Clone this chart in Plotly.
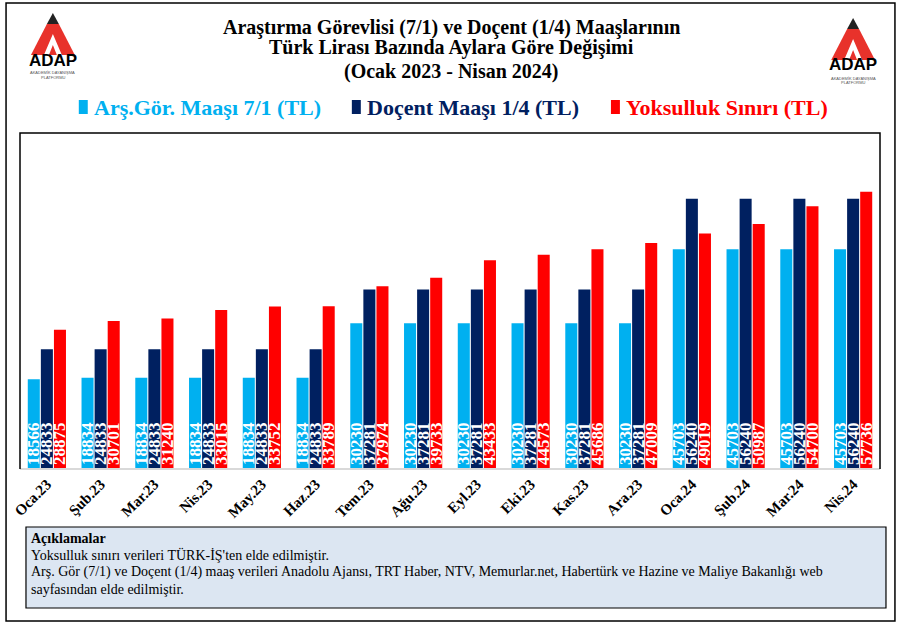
import plotly.graph_objects as go

# ---- data ----
months = ["Oca.23", "Şub.23", "Mar.23", "Nis.23", "May.23", "Haz.23", "Tem.23", "Ağu.23",
          "Eyl.23", "Eki.23", "Kas.23", "Ara.23", "Oca.24", "Şub.24", "Mar.24", "Nis.24"]
arsgor = [18566, 18834, 18834, 18834, 18834, 18834, 30230, 30230,
          30230, 30230, 30230, 30230, 45703, 45703, 45703, 45703]
docent = [24833, 24833, 24833, 24833, 24833, 24833, 37281, 37281,
          37281, 37281, 37281, 37281, 56240, 56240, 56240, 56240]
yoksulluk = [28875, 30701, 31240, 33015, 33752, 33789, 37974, 39733,
             43433, 44573, 45686, 47009, 49019, 50987, 54700, 57736]

series_names = ["Arş.Gör. Maaşı 7/1 (TL)", "Doçent Maaşı 1/4 (TL)", "Yoksulluk Sınırı (TL)"]
series_colors = ["#00b0f0", "#002060", "#ff0000"]

title_lines = ["Araştırma Görevlisi (7/1) ve Doçent (1/4) Maaşlarının",
               "Türk Lirası Bazında Aylara Göre Değişimi",
               "(Ocak 2023 - Nisan 2024)"]
note_title = "Açıklamalar"
note_lines = ["Yoksulluk sınırı verileri TÜRK-İŞ'ten elde edilmiştir.",
              "Arş. Gör (7/1) ve Doçent (1/4) maaş verileri Anadolu Ajansı, TRT Haber, NTV, Memurlar.net, Habertürk ve Hazine ve Maliye Bakanlığı web",
              "sayfasından elde edilmiştir."]

W, H = 900, 631
ML, MR, MT, MB = 17, 20, 133, 163
PW = W - ML - MR
PH = H - MT - MB


def px(x):
    return (x - ML) / PW


def py(y):
    return (H - MB - y) / PH


SERIF = "Liberation Serif"

fig = go.Figure()
for name, vals, col in zip(series_names, [arsgor, docent, yoksulluk], series_colors):
    fig.add_trace(go.Bar(
        x=months, y=vals, name=name, showlegend=False,
        marker=dict(color=col, line=dict(width=0)),
        text=[str(v) for v in vals], textposition="inside", insidetextanchor="start",
        textangle=-90, constraintext="none",
        textfont=dict(family=SERIF, size=17, color="white", weight="bold"),
        cliponaxis=False,
    ))

shapes = []
# outer border
shapes.append(dict(type="rect", xref="paper", yref="paper", x0=px(3), x1=px(895), y0=py(3), y1=py(621),
                   line=dict(color="black", width=1.5), fillcolor="rgba(0,0,0,0)", layer="below"))
# plot frame (left, top, right)
shapes.append(dict(type="path", xref="paper", yref="paper",
                   path=f"M {px(17)},{py(469)} L {px(17)},{py(133)} L {px(880)},{py(133)} L {px(880)},{py(469)}",
                   line=dict(color="black", width=1.5)))
# note box
shapes.append(dict(type="rect", xref="paper", yref="paper", x0=px(23), x1=px(886), y0=py(527), y1=py(608),
                   line=dict(color="black", width=1.2), fillcolor="#dce6f2", layer="below"))


def logo(cx, top):
    out = []
    tip = [(cx, top), (cx - 6, top + 11), (cx + 6, top + 11)]
    red = [(cx - 6, top + 11), (cx + 6, top + 11), (cx + 22, top + 42), (cx - 22, top + 42)]
    white = [(cx, top + 21), (cx + 9, top + 42), (cx + 4, top + 42), (cx, top + 32),
             (cx - 4, top + 42), (cx - 9, top + 42)]
    for poly, col in [(red, "#e8322b"), (tip, "#222222"), (white, "white")]:
        p = "M " + " L ".join(f"{px(a)},{py(b)}" for a, b in poly) + " Z"
        out.append(dict(type="path", xref="paper", yref="paper", path=p, fillcolor=col,
                        line=dict(width=0)))
    return out


shapes += logo(50, 13)
shapes += logo(853, 18)

annotations = []
for line, ty in zip(title_lines, [27, 48, 71]):
    annotations.append(dict(xref="paper", yref="paper", x=px(450), y=py(ty), xanchor="center", yanchor="middle",
                            text="<b>" + line + "</b>", showarrow=False,
                            font=dict(family=SERIF, size=20, color="black")))
for cx, ty in [(50, 60), (853, 65)]:
    annotations.append(dict(xref="paper", yref="paper", x=px(cx), y=py(ty), xanchor="center", yanchor="middle",
                            text="<b>ADAP</b>", showarrow=False,
                            font=dict(family="Liberation Sans", size=17, color="black")))
    for sub, dy in [("AKADEMİK DAYANIŞMA", 13), ("PLATFORMU", 17.5)]:
        annotations.append(dict(xref="paper", yref="paper", x=px(cx), y=py(ty + dy), xanchor="center",
                                yanchor="middle", text=sub, showarrow=False,
                                font=dict(family="Liberation Sans", size=4, color="#555555")))

# legend drawn as coloured squares + coloured text
legend_x = [76, 350, 610]
for name, col, lx in zip(series_names, series_colors, legend_x):
    shapes.append(dict(type="rect", xref="paper", yref="paper", x0=px(lx), x1=px(lx + 9),
                       y0=py(114), y1=py(100), fillcolor=col, line=dict(width=0)))
    annotations.append(dict(xref="paper", yref="paper", x=px(lx + 13), y=py(107), xanchor="left",
                            yanchor="middle", text="<b>" + name + "</b>", showarrow=False,
                            font=dict(family=SERIF, size=22, color=col)))

note_all = ["<b>" + note_title + "</b>"] + note_lines
for i, line in enumerate(note_all):
    annotations.append(dict(xref="paper", yref="paper", x=px(26), y=py(538 + 17 * i), xanchor="left",
                            yanchor="middle", align="left", text=line, showarrow=False,
                            font=dict(family=SERIF, size=14, color="black")))

fig.update_layout(
    width=W, height=H, margin=dict(l=ML, r=MR, t=MT, b=MB),
    paper_bgcolor="white", plot_bgcolor="white",
    barmode="group", bargap=0.27, bargroupgap=0.08,
    showlegend=False,
    xaxis=dict(showline=True, linecolor="#d9d9d9", linewidth=1.5, tickangle=-45, ticks="",
               tickfont=dict(family=SERIF, size=15, color="black", weight="bold"), showgrid=False),
    yaxis=dict(range=[0, 70000], visible=False, showgrid=False),
    shapes=shapes, annotations=annotations,
)

fig.write_html("out.html")
